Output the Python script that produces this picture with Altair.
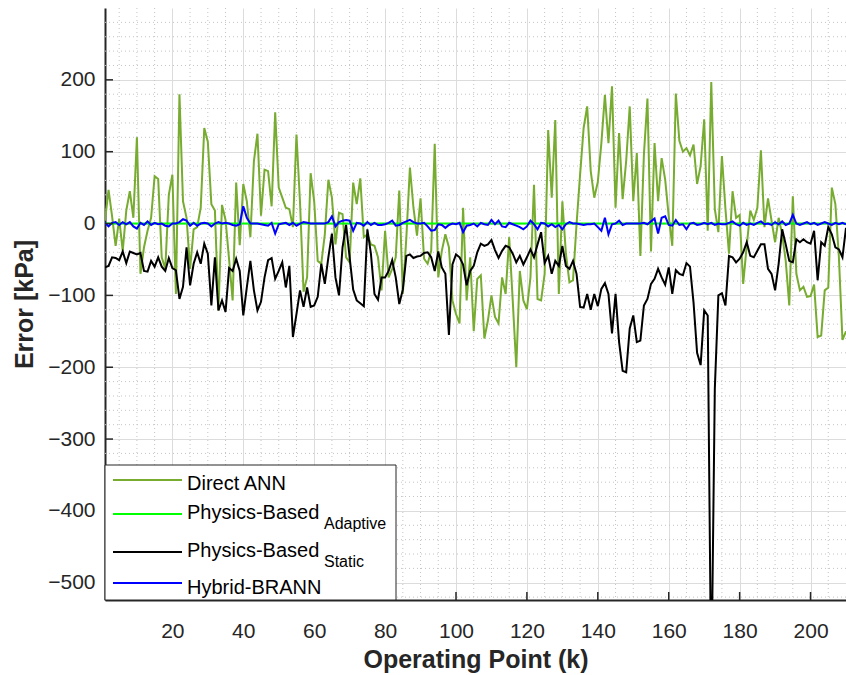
import altair as alt
import pandas as pd

# ---------------- data ----------------
k_index = list(range(1, 211))

direct_ann = [
    4, 47, 10, -31, 7, -38, 18, 45, 8, 120,
    -70, -33, -10, 8, 66, 62, -47, -63, 40, 68,
    -98, 180, 31, 8, -63, -8, -5, 22, 133, 114,
    27, 18, -121, 26, 5, -50, -107, 57, -30, 55,
    31, -19, 87, 125, 11, 75, 73, 24, 155, 50,
    36, 22, 20, -5, 124, 30, -95, -75, 70, 31,
    -52, -56, -15, 61, 36, -29, 15, 13, -47, -54,
    57, 27, 63, -19, -15, -29, -31, -47, -93, -10,
    -75, -63, -47, 46, -98, -19, 78, 22, -17, 35,
    -49, -56, -38, 111, -75, -38, -15, -33, -107, -126,
    -139, 22, -107, -47, -150, -77, -72, -160, -135, -100,
    -130, -139, -75, -98, -19, -107, -200, -66, -107, -119,
    -75, 54, -105, -107, -70, 130, 36, 144, -98, 31,
    -42, -82, -79, -1, 68, 133, 163, 73, 36, 58,
    112, 179, 112, 191, 22, 126, 34, 87, 163, 31,
    98, -45, 96, 174, -39, 112, 31, 91, 61, 10,
    -31, 181, 115, 100, 105, 95, 110, 55, 80, 145,
    -10, 197, 20, -12, 94, 20, -42, 45, 8, 12,
    -84, -31, 18, 5, 22, 102, -5, 35, 4, -26,
    8, -15, -52, -114, 38, -70, -93, -88, -102, -101,
    -85, -158, -156, -93, -89, 50, 27, -47, -162, -150,
]

# Physics-Based (Adaptive): flat at zero across the whole range
physics_adaptive = [0.0] * 210

physics_static = [
    -61, -59, -47, -48, -51, -39, -55, -39, -41, -43,
    -41, -66, -67, -52, -60, -47, -60, -66, -48, -62,
    -65, -105, -88, -33, -86, -56, -40, -56, -28, -42,
    -114, -47, -121, -107, -123, -62, -66, -49, -66, -128,
    -89, -52, -93, -121, -109, -75, -51, -48, -77, -66,
    -54, -89, -59, -158, -126, -93, -116, -89, -116, -114,
    -102, -56, -84, -47, -14, -75, -100, -33, -2, -47,
    -92, -107, -111, -115, -8, -42, -98, -106, -75, -75,
    -66, -51, -75, -112, -92, -45, -43, -48, -46, -45,
    -41, -40, -47, -66, -39, -61, -70, -155, -57, -43,
    -47, -57, -86, -66, -59, -40, -28, -31, -29, -23,
    -37, -48, -38, -31, -33, -42, -54, -45, -57, -47,
    -36, -47, -29, -12, -55, -45, -70, -52, -59, -31,
    -59, -63, -52, -70, -116, -117, -98, -120, -98, -115,
    -91, -83, -98, -153, -98, -165, -205, -207, -146, -128,
    -165, -163, -114, -105, -84, -77, -63, -75, -85, -61,
    -98, -65, -70, -72, -55, -60, -110, -180, -197, -121,
    -128, -650, -230, -100, -97, -114, -45, -47, -54, -49,
    -40, -26, -45, -47, -38, -29, -29, -63, -70, -93,
    -56, -8, -29, -52, -54, -22, -26, -22, -26, -28,
    -10, -79, -26, -31, -5, -15, -33, -36, -47, -6,
]

hybrid_brann = [
    1, -4, 1, 2, -2, 2, -1, 2, -4, -7,
    1, -2, 3, -2, 1, -1, 0, -3, -4, 0,
    0, 2, 6, 4, -3, 1, -3, 0, 1, 0,
    -4, 0, 2, 0, 1, 0, -2, -3, -1, 24,
    8, 0, 0, 0, -1, -2, -3, 1, -14, -1,
    0, 1, -2, 1, -3, 0, 2, 1, 0, 0,
    0, 0, 0, 2, 10, -4, 2, 4, 5, 4,
    -10, 1, 0, -3, 2, -2, 1, -2, -2, -1,
    1, 4, -3, -2, 1, 3, 5, 2, 0, 0,
    1, -4, -10, -9, -1, -2, -6, -2, 0, -1,
    1, -12, -3, -2, 0, -4, 1, -1, -2, 5,
    -1, 4, -4, -5, 1, -1, -3, -5, -8, -4,
    4, -1, -8, 1, 0, -4, -1, -5, -2, -8,
    -1, 2, 0, 0, -1, -2, -1, -1, 0, -5,
    -10, 8, -15, -1, 0, 4, -2, 0, 0, 0,
    0, 0, 1, -1, 3, 7, -14, 8, 10, -2,
    -3, 5, -2, -1, -8, 0, 1, -2, -1, 1,
    -1, 1, -2, 0, -1, -1, 1, 3, -1, -3,
    1, -2, 0, -2, 1, 3, -1, 0, -2, 2,
    -1, 3, -2, 0, 12, 0, -2, 0, 2, -1,
    1, -2, 0, 2, 0, -2, 1, -1, 1, -1,
]

series_names = ["Direct ANN", "Physics-Based Adaptive", "Physics-Based Static", "Hybrid-BRANN"]
series_colors = ["#77AC30", "#00FF00", "#000000", "#0000FF"]
series_values = [direct_ann, physics_adaptive, physics_static, hybrid_brann]

x_ticks = [20, 40, 60, 80, 100, 120, 140, 160, 180, 200]
y_ticks = [-500, -400, -300, -200, -100, 0, 100, 200]
x_minor = [v for v in range(5, 210, 5) if v % 20 != 0]
y_minor = [v for v in range(-520, 300, 20) if v % 100 != 0]

X_DOMAIN = [1, 210]
Y_DOMAIN = [-524, 300]

W, H = 741, 592
FONT = "Liberation Sans"
TXT = "#262626"

xscale = alt.Scale(domain=X_DOMAIN, nice=False, zero=False)
yscale = alt.Scale(domain=Y_DOMAIN, nice=False, zero=False)

x_axis = alt.Axis(
    values=x_ticks, title="Operating Point (k)", grid=True,
    gridColor="#dcdcdc", gridWidth=1, tickSize=0, labelPadding=20,
    labelFontSize=21, labelFont=FONT, labelColor=TXT,
    titleFontSize=25, titleFont=FONT, titleFontWeight="bold", titleColor=TXT,
    titlePadding=6, domainColor=TXT, domainWidth=2, labelFlush=False,
)
y_axis = alt.Axis(
    values=y_ticks, title="Error [kPa]", grid=True,
    gridColor="#dcdcdc", gridWidth=1, tickSize=0, labelPadding=10,
    labelFontSize=21, labelFont=FONT, labelColor=TXT,
    titleFontSize=25, titleFont=FONT, titleFontWeight="bold", titleColor=TXT,
    titlePadding=10, domainColor=TXT, domainWidth=2, labelFlush=False,
)


def X(field="k"):
    return alt.X(f"{field}:Q", scale=xscale, axis=x_axis)


def Y(field="value"):
    return alt.Y(f"{field}:Q", scale=yscale, axis=y_axis)


# minor dotted grid
minor_x = alt.Chart(pd.DataFrame({"k": x_minor})).mark_rule(
    color="#c4c4c4", strokeWidth=1, strokeDash=[1, 3]
).encode(x=X())
minor_y = alt.Chart(pd.DataFrame({"value": y_minor})).mark_rule(
    color="#c4c4c4", strokeWidth=1, strokeDash=[1, 3]
).encode(y=Y())

layers = [minor_x, minor_y]

# series lines
for name, vals, col in zip(series_names, series_values, series_colors):
    df = pd.DataFrame({"k": k_index, "value": vals})
    layers.append(
        alt.Chart(df).mark_line(color=col, strokeWidth=2, clip=True).encode(x=X(), y=Y())
    )

# inward ticks
xt = alt.Chart(pd.DataFrame({"k": x_ticks})).mark_rule(color=TXT, strokeWidth=1.5).encode(
    x=X(), y=alt.value(H), y2=alt.value(H - 8)
)
yt = alt.Chart(pd.DataFrame({"value": y_ticks})).mark_rule(color=TXT, strokeWidth=1.5).encode(
    y=Y(), x=alt.value(0), x2=alt.value(8)
)
layers += [xt, yt]

# custom legend (box, sample lines, labels with subscripts)
one = pd.DataFrame({"a": [0]})
box = alt.Chart(one).mark_rect(fill="white", stroke=TXT, strokeWidth=1).encode(
    x=alt.value(0), x2=alt.value(291), y=alt.value(457), y2=alt.value(592)
)
layers.append(box)

sample_y = [472, 506, 544, 575]
label_y = [482, 511, 548.5, 586]
main_labels = ["Direct ANN", "Physics-Based", "Physics-Based", "Hybrid-BRANN"]
for sy, ly, lab, col in zip(sample_y, label_y, main_labels, series_colors):
    layers.append(
        alt.Chart(one).mark_rule(color=col, strokeWidth=2).encode(
            x=alt.value(8), x2=alt.value(77), y=alt.value(sy)
        )
    )
    layers.append(
        alt.Chart(one).mark_text(
            text=lab, align="left", baseline="alphabetic", fontSize=20, font=FONT, color="#000000"
        ).encode(x=alt.value(82), y=alt.value(ly))
    )

for sub, sy in zip(["Adaptive", "Static"], [520.5, 558.5]):
    layers.append(
        alt.Chart(one).mark_text(
            text=sub, align="left", baseline="alphabetic", fontSize=16, font=FONT, color="#000000"
        ).encode(x=alt.value(219), y=alt.value(sy))
    )

chart = alt.layer(*layers).properties(
    width=W, height=H,
    padding={"left": 105, "top": 8, "right": 0, "bottom": 75},
    autosize=alt.AutoSizeParams(type="none"),
    background="white",
).configure_view(stroke=None)

chart.save("out.html", embed_options={"renderer": "svg", "actions": False})
